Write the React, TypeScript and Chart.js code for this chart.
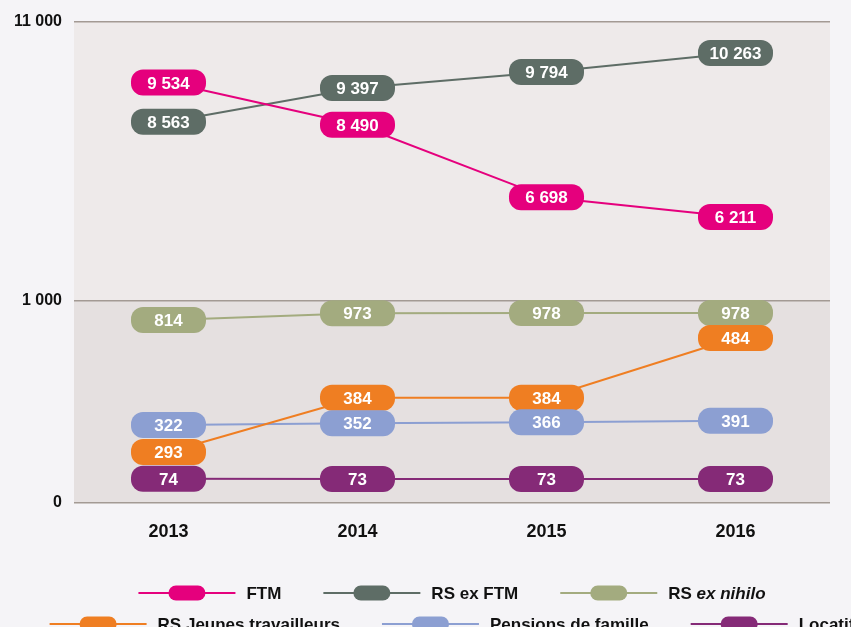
import React, { useEffect, useRef } from 'react';
import { Chart, registerables, LinearScale } from 'chart.js';

// ---------- data ----------
const years = ['2013', '2014', '2015', '2016'];
const seriesNames = ['FTM', 'RS ex FTM', 'RS ex nihilo', 'RS Jeunes travailleurs', 'Pensions de famille', 'Locatif'];
const ftm = [9534, 8490, 6698, 6211];
const rsExFtm = [8563, 9397, 9794, 10263];
const rsExNihilo = [814, 973, 978, 978];
const rsJeunes = [293, 384, 384, 484];
const pensions = [322, 352, 366, 391];
const locatif = [74, 73, 73, 73];
const yTickValues = [0, 1000, 11000];
const italicPhrase = 'ex nihilo';

// ---------- styles / layout ----------
const COLORS = ['#e5007d', '#5e6d66', '#a3ab7f', '#ef7e22', '#8c9fd2', '#852a77'];
const PAGE_BG = '#f5f4f7';
const UPPER_BG = '#eeeaea';
const LOWER_BG = '#e5e0e0';
const GRID = '#a39a94';
const TEXT = '#111111';
const FONT = '"Liberation Sans", Arial, Helvetica, sans-serif';
const BREAK_FRACTION = 0.421; // share of the plot height given to the 0-1000 section
const PILL_W = 75;
const PILL_H = 26;
const PILL_R = 12;
const LEGEND_ROWS = [[0, 1, 2], [3, 4, 5]];
const LEGEND_ROW_Y = [593, 624];
const LEGEND_MARK_W = 97;
const LEGEND_GAP = 42;

// hidden lane scales (the original chart is drawn "not to scale", each family in its own lane)
const lanes: Record<string, { min: number; max: number }> = {
  yHigh: { min: -855, max: 11030 },
  yNihilo: { min: -3474, max: 7796 },
  yJeunes: { min: 207.6, max: 1013.4 },
  yPensions: { min: -978, max: 7039 },
  yLocatif: { min: 0, max: 1463 },
};
const seriesData = [ftm, rsExFtm, rsExNihilo, rsJeunes, pensions, locatif];
const seriesAxes = ['yHigh', 'yHigh', 'yNihilo', 'yJeunes', 'yPensions', 'yLocatif'];

const fmt = (v: number) => String(v).replace(/\B(?=(\d{3})+(?!\d))/g, ' ');

// broken axis: 0..1000 on the lower part, 1000..11000 on the upper part
class BrokenScale extends LinearScale {
  static id = 'broken';
  static defaults = {};
  brokenFraction(value: number) {
    const lo = yTickValues[0];
    const mid = yTickValues[1];
    const hi = yTickValues[yTickValues.length - 1];
    if (value <= mid) return ((value - lo) / (mid - lo)) * BREAK_FRACTION;
    return BREAK_FRACTION + ((value - mid) / (hi - mid)) * (1 - BREAK_FRACTION);
  }
  getPixelForValue(value: number) {
    if (value === null || value === undefined) return NaN;
    return this.getPixelForDecimal(this.brokenFraction(value));
  }
  getValueForPixel(pixel: number) {
    const d = this.getDecimalForPixel(pixel);
    const lo = yTickValues[0];
    const mid = yTickValues[1];
    const hi = yTickValues[yTickValues.length - 1];
    if (d <= BREAK_FRACTION) return lo + (d / BREAK_FRACTION) * (mid - lo);
    return mid + ((d - BREAK_FRACTION) / (1 - BREAK_FRACTION)) * (hi - mid);
  }
}

Chart.register(...registerables, BrokenScale);

const backgroundPlugin = {
  id: 'bands',
  beforeDraw(chart: any) {
    const { ctx, chartArea } = chart;
    const y = chart.scales.y;
    const yBreak = y.getPixelForValue(yTickValues[1]);
    ctx.save();
    ctx.fillStyle = PAGE_BG;
    ctx.fillRect(0, 0, chart.width, chart.height);
    ctx.fillStyle = UPPER_BG;
    ctx.fillRect(chartArea.left, chartArea.top, chartArea.right - chartArea.left, yBreak - chartArea.top);
    ctx.fillStyle = LOWER_BG;
    ctx.fillRect(chartArea.left, yBreak, chartArea.right - chartArea.left, chartArea.bottom - yBreak);
    ctx.restore();
  },
};

const pillPlugin = {
  id: 'pills',
  afterDatasetsDraw(chart: any) {
    const ctx = chart.ctx;
    chart.data.datasets.forEach((ds: any, di: number) => {
      const meta = chart.getDatasetMeta(di);
      meta.data.forEach((pt: any, i: number) => {
        const x = pt.x;
        const y = pt.y;
        ctx.save();
        ctx.fillStyle = ds.borderColor;
        ctx.beginPath();
        ctx.roundRect(x - PILL_W / 2, y - PILL_H / 2, PILL_W, PILL_H, PILL_R);
        ctx.fill();
        ctx.fillStyle = '#ffffff';
        ctx.font = `bold 17px ${FONT}`;
        ctx.textAlign = 'center';
        ctx.textBaseline = 'alphabetic';
        ctx.fillText(fmt(ds.data[i]), x, y + 6);
        ctx.restore();
      });
    });
  },
};

function labelSegments(label: string) {
  const idx = label.indexOf(italicPhrase);
  if (idx < 0) return [{ text: label, italic: false }];
  return [
    { text: label.slice(0, idx), italic: false },
    { text: italicPhrase, italic: true },
    { text: label.slice(idx + italicPhrase.length), italic: false },
  ].filter((s) => s.text.length > 0);
}

const legendPlugin = {
  id: 'customLegend',
  afterDraw(chart: any) {
    const { ctx, chartArea } = chart;
    const cx = (chartArea.left + chartArea.right) / 2;
    const fontN = `bold 17px ${FONT}`;
    const fontI = `italic bold 17px ${FONT}`;
    const textGap = 11;
    ctx.save();
    LEGEND_ROWS.forEach((row, r) => {
      const items = row.map((di) => {
        const ds = chart.data.datasets[di];
        const segs = labelSegments(ds.label);
        let tw = 0;
        segs.forEach((s) => {
          ctx.font = s.italic ? fontI : fontN;
          tw += ctx.measureText(s.text).width;
        });
        return { ds, segs, w: LEGEND_MARK_W + textGap + tw };
      });
      const total = items.reduce((a, it) => a + it.w, 0) + LEGEND_GAP * (items.length - 1);
      let x = cx - total / 2;
      const y = LEGEND_ROW_Y[r];
      items.forEach((it) => {
        const color = it.ds.borderColor;
        ctx.strokeStyle = color;
        ctx.lineWidth = 2;
        ctx.beginPath();
        ctx.moveTo(x, y);
        ctx.lineTo(x + LEGEND_MARK_W, y);
        ctx.stroke();
        ctx.fillStyle = color;
        ctx.beginPath();
        ctx.roundRect(x + LEGEND_MARK_W / 2 - 18.5, y - 7.5, 37, 15, 7.5);
        ctx.fill();
        let tx = x + LEGEND_MARK_W + textGap;
        ctx.fillStyle = TEXT;
        ctx.textAlign = 'left';
        ctx.textBaseline = 'alphabetic';
        it.segs.forEach((s) => {
          ctx.font = s.italic ? fontI : fontN;
          ctx.fillText(s.text, tx, y + 6);
          tx += ctx.measureText(s.text).width;
        });
        x += it.w + LEGEND_GAP;
      });
    });
    ctx.restore();
  },
};

export default function App() {
  const ref = useRef<HTMLCanvasElement>(null);
  useEffect(() => {
    if (!ref.current) return;
    const hiddenScales: Record<string, any> = {};
    Object.keys(lanes).forEach((k) => {
      hiddenScales[k] = { type: 'linear', display: false, min: lanes[k].min, max: lanes[k].max };
    });
    const chart = new Chart(ref.current, {
      type: 'line',
      data: {
        labels: years,
        datasets: seriesNames.map((name, i) => ({
          label: name,
          data: seriesData[i],
          yAxisID: seriesAxes[i],
          borderColor: COLORS[i],
          backgroundColor: COLORS[i],
          borderWidth: 2,
          pointRadius: 0,
          pointHoverRadius: 0,
          tension: 0,
          fill: false,
        })),
      },
      options: {
        responsive: false,
        animation: false,
        devicePixelRatio: 1,
        layout: { padding: { left: 0, right: 21, top: 22, bottom: 0 } },
        plugins: { legend: { display: false }, tooltip: { enabled: false } },
        scales: {
          x: {
            type: 'category',
            offset: true,
            grid: { display: false, drawTicks: false },
            border: { display: false },
            ticks: { color: TEXT, font: { family: FONT, size: 18, weight: 'bold' }, padding: 18 },
            afterFit: (s: any) => { s.height = 124; },
          },
          y: {
            type: 'broken',
            position: 'left',
            min: yTickValues[0],
            max: yTickValues[yTickValues.length - 1],
            afterBuildTicks: (s: any) => { s.ticks = yTickValues.map((v) => ({ value: v })); },
            grid: { color: GRID, lineWidth: 1.5, drawTicks: false },
            border: { display: false },
            ticks: {
              color: TEXT,
              font: { family: FONT, size: 16, weight: 'bold' },
              padding: 12,
              autoSkip: false,
              callback: (v: any) => fmt(Number(v)),
            },
            afterFit: (s: any) => { s.width = 74; },
          },
          ...hiddenScales,
        },
      } as any,
      plugins: [backgroundPlugin, pillPlugin, legendPlugin],
    });
    return () => chart.destroy();
  }, []);
  return (
    <div style={{ position: 'fixed', left: 0, top: 0, width: 851, height: 627, background: PAGE_BG, overflow: 'hidden' }}>
      <canvas ref={ref} width={851} height={627} style={{ display: 'block', width: 851, height: 627 }} />
    </div>
  );
}
